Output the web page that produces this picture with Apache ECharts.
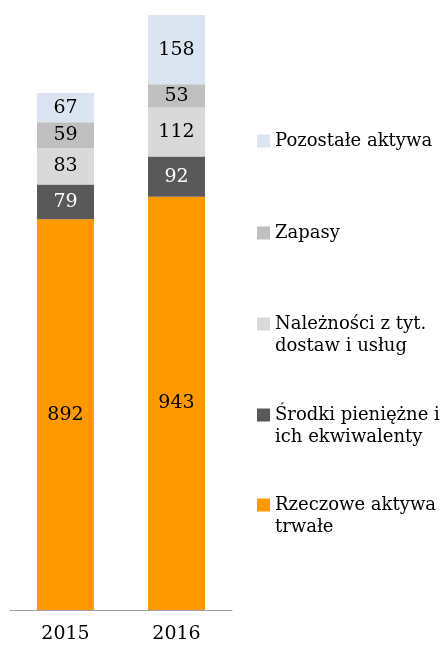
<!DOCTYPE html>
<html>
<head>
<meta charset="utf-8">
<script src="https://cdn.jsdelivr.net/npm/echarts@6/dist/echarts.min.js"></script>
<style>
  html, body { margin: 0; padding: 0; background: #fff; }
  #chart { width: 440px; height: 645px; }
</style>
</head>
<body>
<div id="chart"></div>
<script>
// lata
const years = ['2015', '2016'];
// aktywa (od dołu stosu)
const rzeczowe = [892, 943];
const srodki = [79, 92];
const naleznosci = [83, 112];
const zapasy = [59, 53];
const pozostale = [67, 158];

const names = [
  'Rzeczowe aktywa trwałe',
  'Środki pieniężne i ich ekwiwalenty',
  'Należności z tyt. dostaw i usług',
  'Zapasy',
  'Pozostałe aktywa'
];
// tekst w legendzie z łamaniem linii
// (pusta pierwsza linia -> ikona wypada przy pierwszym wierszu)
const legendText = {
  'Rzeczowe aktywa trwałe': '\nRzeczowe aktywa\ntrwałe',
  'Środki pieniężne i ich ekwiwalenty': '\nŚrodki pieniężne i\nich ekwiwalenty',
  'Należności z tyt. dostaw i usług': '\nNależności z tyt.\ndostaw i usług',
  'Zapasy': 'Zapasy',
  'Pozostałe aktywa': 'Pozostałe aktywa'
};
const values = [rzeczowe, srodki, naleznosci, zapasy, pozostale];
const colors = ['#ff9900', '#595959', '#d9d9d9', '#bfbfbf', '#dbe5f1'];
const labelColors = ['#000', '#fff', '#000', '#000', '#000'];

const font = 'DejaVu Serif';
const total2016 = 1358;

const myChart = echarts.init(document.getElementById('chart'));

// środek ikony każdej pozycji legendy
const legendCenters = {
  'Pozostałe aktywa': 141,
  'Zapasy': 233,
  'Należności z tyt. dostaw i usług': 324,
  'Środki pieniężne i ich ekwiwalenty': 415,
  'Rzeczowe aktywa trwałe': 505
};
const legends = names.map(n => {
  const lines = legendText[n].split('\n').length;
  return {
    data: [n],
    left: 257,
    top: legendCenters[n] - lines * 11,
    padding: 0,
    itemWidth: 13,
    itemHeight: 13,
    icon: 'rect',
    formatter: name => legendText[name],
    textStyle: {
      fontFamily: font,
      fontSize: 18,
      lineHeight: 22,
      color: '#000'
    }
  };
});

myChart.setOption({
  animation: false,
  textStyle: { fontFamily: font },
  legend: legends,
  grid: {
    left: 10,
    width: 222,
    top: 15,
    bottom: 35
  },
  xAxis: {
    type: 'category',
    data: years,
    axisLine: { lineStyle: { color: '#a0a0a0', width: 1 } },
    axisTick: { show: false },
    axisLabel: {
      margin: 15,
      fontFamily: font,
      fontSize: 19,
      color: '#000'
    }
  },
  yAxis: {
    type: 'value',
    min: 0,
    max: total2016,
    show: false,
    splitLine: { show: false }
  },
  series: names.map((n, i) => ({
    name: n,
    type: 'bar',
    stack: 'aktywa',
    barWidth: 57,
    data: values[i],
    itemStyle: { color: colors[i] },
    label: {
      show: true,
      position: 'inside',
      fontFamily: font,
      fontSize: 19,
      color: labelColors[i]
    }
  }))
});
</script>
</body>
</html>
